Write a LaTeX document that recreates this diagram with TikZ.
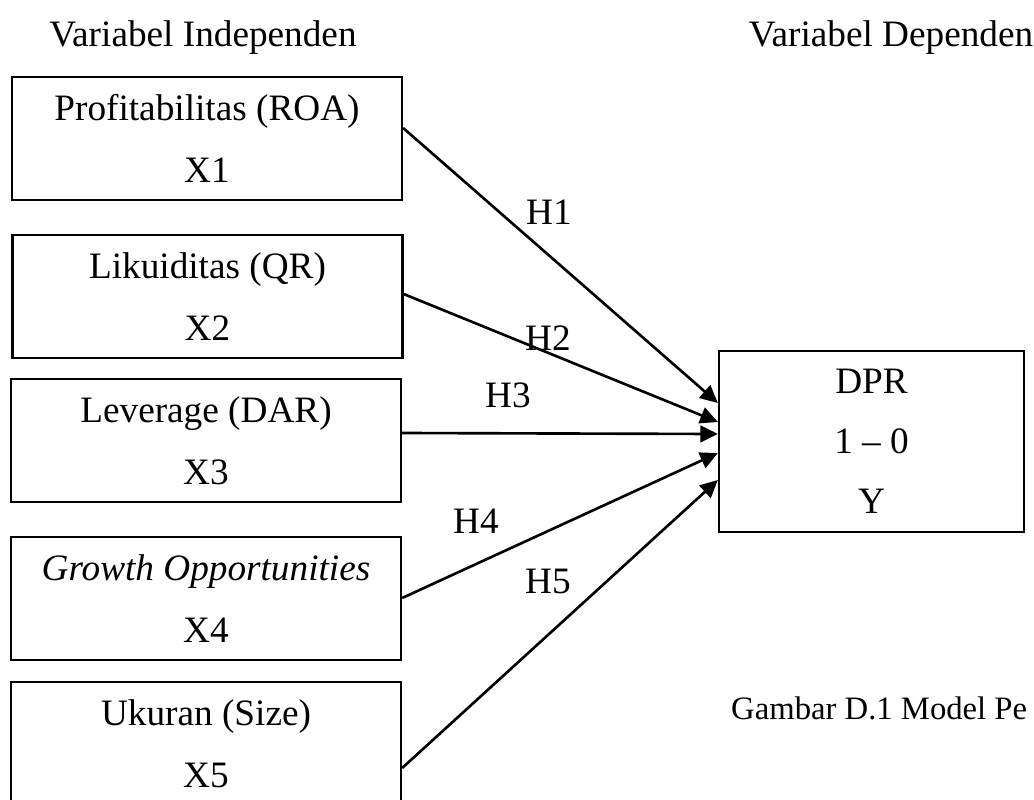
\documentclass[tikz,border=0pt]{standalone}
\usepackage{fontspec}
\setmainfont{Liberation Serif}
\usetikzlibrary{arrows.meta}

\begin{document}
\begin{tikzpicture}[
  font=\fontsize{21.2}{35}\selectfont,
  varbox/.style={draw, line width=1.3pt, minimum width=7.8cm, minimum height=2.46cm, align=center, inner sep=0pt},
  hyp/.style={-{Triangle[length=10pt,width=9.5pt]}, line width=1.5pt}
]
  \useasboundingbox (0,0) rectangle (20.68,15.98);
  \node (indep) at (4.06,15.22)  {Variabel Independen};
  \node (dep)   at (17.82,15.22) {Variabel Dependen};
  \node[varbox] (x1) at (4.14,13.21) {Profitabilitas (ROA)\\X1};
  \node[varbox] (x2) at (4.15,10.05) {Likuiditas (QR)\\X2};
  \node[varbox] (x3) at (4.12,7.17)  {Leverage (DAR)\\X3};
  \node[varbox] (x4) at (4.12,4.01)  {\textit{Growth Opportunities}\\X4};
  \node[varbox] (x5) at (4.12,1.11)  {Ukuran (Size)\\X5};
  \node[varbox, minimum width=6.1cm, minimum height=3.62cm] (y) at (17.43,7.15) {DPR\\[-1pt]1 -- 0\\[-1pt]Y};
  \node (h1) at (10.98,11.74) {H1};
  \node (h2) at (10.96,9.22)  {H2};
  \node (h3) at (10.16,8.08)  {H3};
  \node (h4) at (9.52,5.56)   {H4};
  \node (h5) at (10.96,4.36)  {H5};
  \node[anchor=west, font=\fontsize{18.6}{22}\selectfont] (cap) at (14.5,1.82) {Gambar D.1 Model Pe};
  \draw[hyp] ([yshift=0.21cm]x1.east)  -- ([yshift=0.77cm]y.west);
  \draw[hyp] ([yshift=0.05cm]x2.east)  -- ([yshift=0.39cm]y.west);
  \draw[hyp] ([yshift=0.15cm]x3.east)  -- ([yshift=0.15cm]y.west);
  \draw[hyp] ([yshift=0.01cm]x4.east)  -- ([yshift=-0.23cm]y.west);
  \draw[hyp] ([yshift=-0.49cm]x5.east) -- ([yshift=-0.77cm]y.west);
\end{tikzpicture}
\end{document}
